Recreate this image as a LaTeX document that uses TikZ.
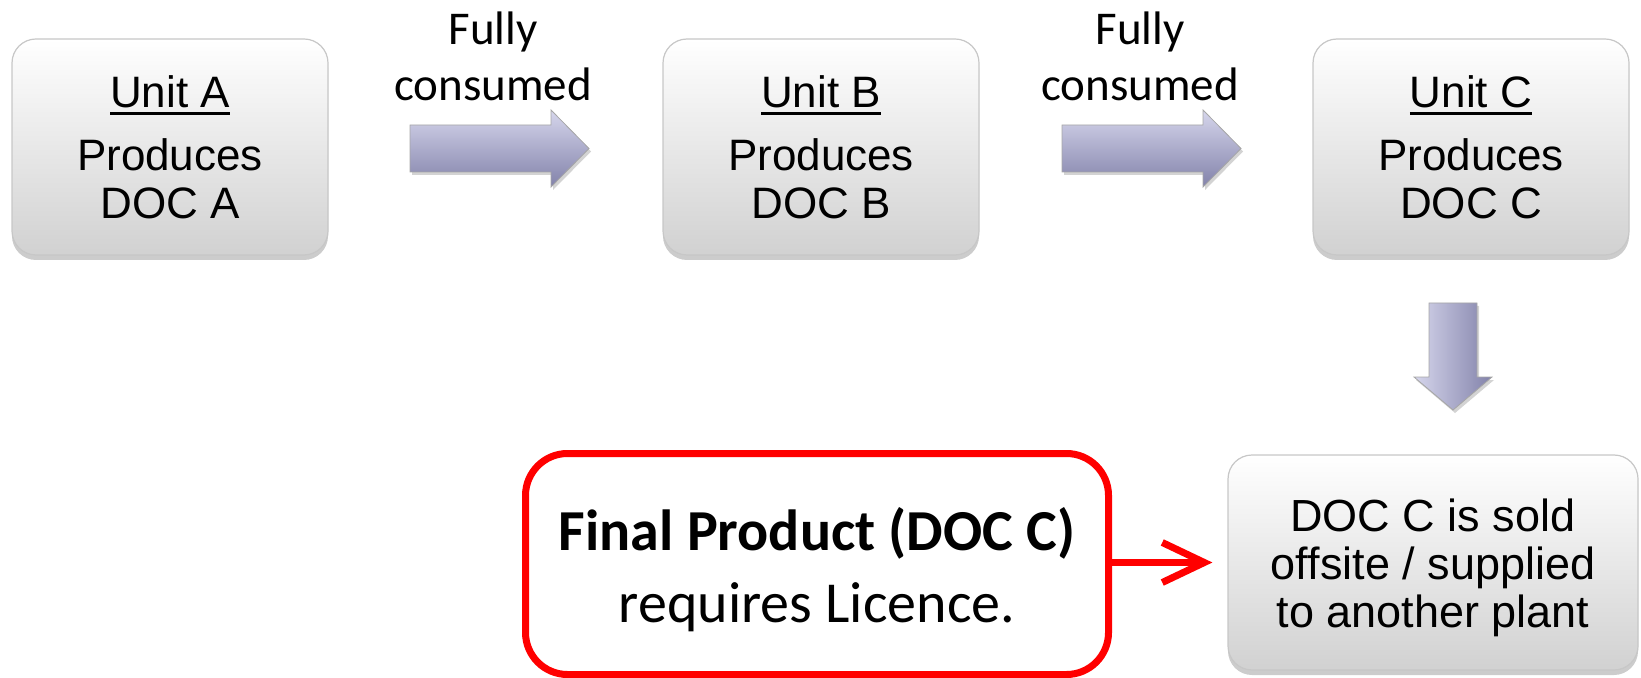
\documentclass[tikz,border=0pt]{standalone}
\usepackage{fontspec}
\setmainfont{Liberation Sans}
\newfontfamily\calfont{Carlito}
\usetikzlibrary{shadows,arrows.meta}
\definecolor{arrowlight}{HTML}{D6D6EC}
\definecolor{arrowmid}{HTML}{A6A6CE}
\definecolor{arrowdark}{HTML}{8282AA}
\newcommand\unitul[1]{\setbox0\hbox{#1}\rlap{\rule[-3.75pt]{\wd0}{1.5pt}}\box0}
\def\blockright(#1,#2){\draw[blockarrow, top color=arrowlight, middle color=arrowmid, bottom color=arrowdark] (#1,#2-23.5) -- (#1+141,#2-23.5) -- (#1+141,#2-38.5) -- (#1+179,#2) -- (#1+141,#2+38.5) -- (#1+141,#2+23.5) -- (#1,#2+23.5) -- cycle;}
\def\blockdown(#1,#2){\draw[blockarrow, left color=arrowlight, middle color=arrowmid, right color=arrowdark] (#1-24,#2) -- (#1+24,#2) -- (#1+24,#2+74) -- (#1+39,#2+74) -- (#1,#2+107) -- (#1-39,#2+74) -- (#1-24,#2+74) -- cycle;}

\begin{document}
\begin{tikzpicture}[x=0.5pt, y=-0.5pt,
	unitbox/.style={draw=black!22, line width=0.6pt, rounded corners=12pt, top color=white, bottom color=black!18, align=center, drop shadow={shadow xshift=0pt, shadow yshift=-2.5pt, opacity=0.4}},
	blockarrow/.style={draw=black!35, line width=0.4pt, drop shadow={shadow xshift=1pt, shadow yshift=-1.5pt, opacity=0.35}},
	licbox/.style={draw=red, line width=3.5pt, rounded corners=21pt, fill=white, align=center, minimum width=291.5pt, minimum height=110.5pt},
	licarrow/.style={draw=red, line width=3.5pt, -{Straight Barb[length=21pt, width=20pt]}, shorten >=7.5pt}]
		%%%%% START %%%%%
		
		\useasboundingbox (0,0) rectangle (1641,678);
		
		\node[unitbox, minimum width=158pt, minimum height=108pt, font=\fontsize{22}{24}\selectfont] (unitA) at (170,147) {\unitul{Unit A}\\[7.5pt]Produces\\DOC A};
		\node[unitbox, minimum width=158pt, minimum height=108pt, font=\fontsize{22}{24}\selectfont] (unitB) at (821,147) {\unitul{Unit B}\\[7.5pt]Produces\\DOC B};
		\node[unitbox, minimum width=158pt, minimum height=108pt, font=\fontsize{22}{24}\selectfont] (unitC) at (1471,147) {\unitul{Unit C}\\[7.5pt]Produces\\DOC C};
		
		\node[align=center, font=\calfont\fontsize{23.5}{28}\selectfont] (consumedAB) at (493,56) {Fully\\consumed};
		\node[align=center, font=\calfont\fontsize{23.5}{28}\selectfont] (consumedBC) at (1140,56) {Fully\\consumed};
		
		\blockright(410,148.5)
		\blockright(1062,148.5)
		\blockdown(1453,303)
		
		\node[unitbox, minimum width=205pt, minimum height=107.5pt, font=\fontsize{22.5}{24}\selectfont] (sold) at (1433,562.5) {\rule{0pt}{21.5pt}DOC C is sold\\offsite / supplied\\to another plant};
		
		\node[licbox, font=\calfont\fontsize{29}{36}\selectfont] (final) at (817,564) {\rule{0pt}{27pt}\textbf{Final Product (DOC C)}\\requires Licence.};
		\draw[licarrow] (final.east |- sold.west) -- (sold.west);
		
		%%%%% END %%%%%
\end{tikzpicture}
\end{document}
